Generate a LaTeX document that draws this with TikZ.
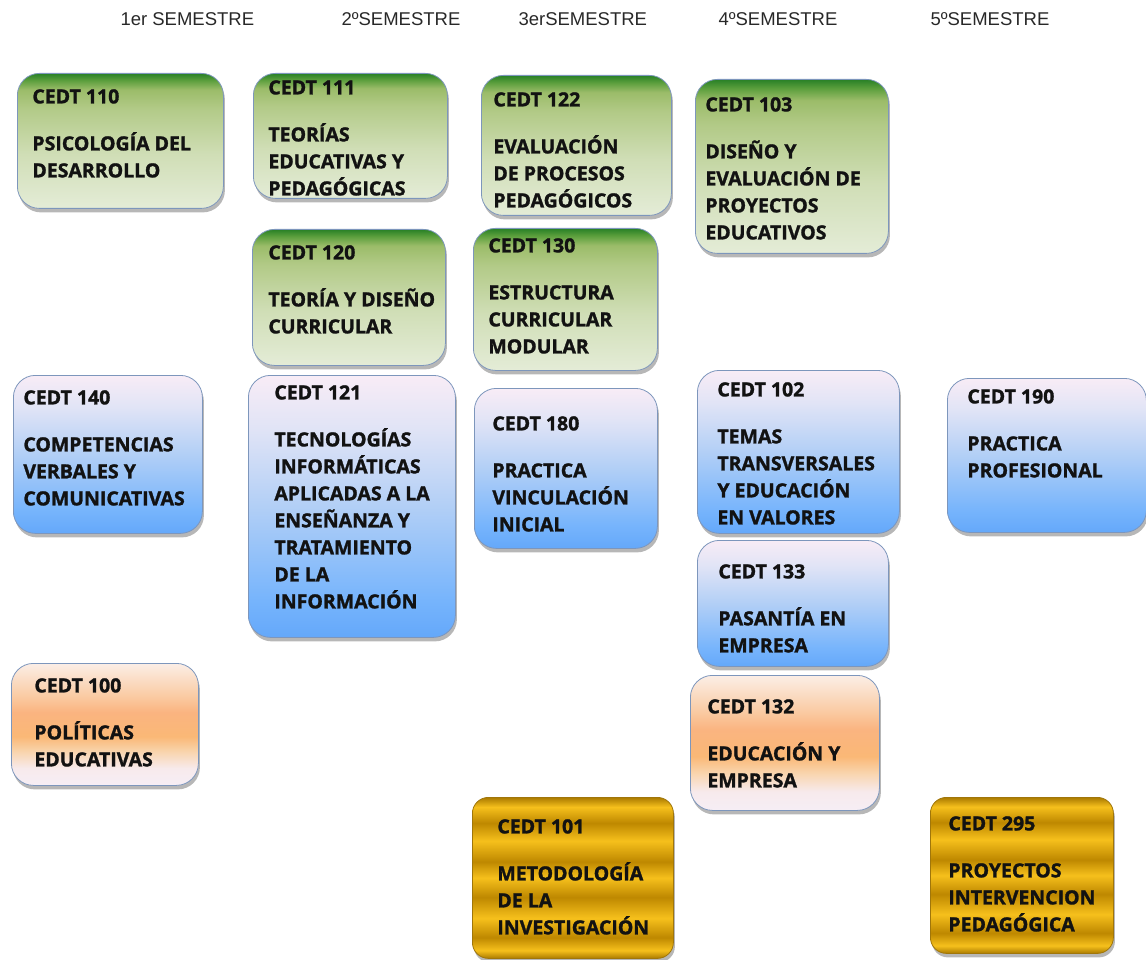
\documentclass[tikz,border=0pt]{standalone}
\usepackage{fontspec}
\setmainfont{Open Sans}[BoldFeatures={FakeBold=1.4}]
\newfontfamily\semfont{Liberation Sans}
\usetikzlibrary{shadows}

% colours
\definecolor{boxline}{RGB}{125,150,188}
\definecolor{goldline}{RGB}{160,118,10}
\definecolor{semgray}{RGB}{40,40,40}
\definecolor{coursetext}{RGB}{18,18,18}
\definecolor{gA}{RGB}{228,236,215}
\definecolor{gB}{RGB}{208,222,182}
\definecolor{gC}{RGB}{178,202,135}
\definecolor{gD}{RGB}{155,188,105}
\definecolor{gE}{RGB}{90,158,60}
\definecolor{gF}{RGB}{40,128,38}
\definecolor{bA}{RGB}{100,168,250}
\definecolor{bB}{RGB}{118,180,252}
\definecolor{bC}{RGB}{178,207,246}
\definecolor{bD}{RGB}{225,228,246}
\definecolor{bE}{RGB}{248,236,246}
\definecolor{oA}{RGB}{246,238,245}
\definecolor{oB}{RGB}{247,234,236}
\definecolor{oC}{RGB}{249,212,172}
\definecolor{oD}{RGB}{250,184,118}
\definecolor{oE}{RGB}{250,180,128}
\definecolor{oF}{RGB}{250,204,165}
\definecolor{oG}{RGB}{251,238,230}
\definecolor{auDark}{RGB}{190,136,0}
\definecolor{auLight}{RGB}{246,192,28}
\definecolor{auEdge}{RGB}{170,122,0}

% shadings (bottom to top)
\pgfdeclareverticalshading{greenfill}{100bp}{color(0bp)=(gA); color(25bp)=(gA);
  color(45bp)=(gB); color(62bp)=(gC); color(69bp)=(gD); color(72.5bp)=(gE);
  color(75bp)=(gF); color(100bp)=(gF)}
\pgfdeclareverticalshading{bluefill}{100bp}{color(0bp)=(bA); color(25bp)=(bA);
  color(32bp)=(bB); color(50bp)=(bC); color(65bp)=(bD); color(75bp)=(bE);
  color(100bp)=(bE)}
\pgfdeclareverticalshading{orangefill}{100bp}{color(0bp)=(oA); color(25bp)=(oA);
  color(32bp)=(oB); color(39bp)=(oC); color(45bp)=(oD); color(55bp)=(oE);
  color(62bp)=(oF); color(75bp)=(oG); color(100bp)=(oG)}
\pgfdeclareverticalshading{goldfill}{100bp}{color(0bp)=(auEdge); color(25bp)=(auEdge);
  color(27.5bp)=(auLight); color(31.5bp)=(auDark); color(37.5bp)=(auLight);
  color(44bp)=(auDark); color(50bp)=(auLight); color(55bp)=(auDark);
  color(61.5bp)=(auLight); color(67bp)=(auDark); color(72bp)=(auLight);
  color(75bp)=(auEdge); color(100bp)=(auEdge)}

\begin{document}
\begin{tikzpicture}[x=1pt,y=-1pt]
% Styles
\tikzstyle{course}=[draw=boxline, line width=0.8pt, rounded corners=22pt,
  inner sep=0pt, anchor=north west, text=coursetext,
  font=\fontsize{19.5}{27}\selectfont\bfseries,
  drop shadow={shadow xshift=1.5pt, shadow yshift=-4pt, opacity=0.4, fill=black!70}]
\tikzstyle{greenbox}=[course, shading=greenfill]
\tikzstyle{bluebox}=[course, shading=bluefill]
\tikzstyle{orangebox}=[course, shading=orangefill]
\tikzstyle{goldbox}=[course, shading=goldfill, draw=goldline, rounded corners=16pt]
\tikzstyle{semester}=[anchor=base west, text=semgray,
  font=\semfont\fontsize{18.5}{20}\selectfont]

\useasboundingbox (0,0) rectangle (1146,960);

% semester headings
\node[semester] (sem1) at (117,26) {1er SEMESTRE};
\node[semester] (sem2) at (338,26) {2ºSEMESTRE};
\node[semester] (sem3) at (515,26) {3erSEMESTRE};
\node[semester] (sem4) at (715,26) {4ºSEMESTRE};
\node[semester] (sem5) at (927,26) {5ºSEMESTRE};

% draw the course boxes: name / x / y / width / height / style / text x / first baseline / text
\foreach \nm/\x/\y/\w/\h/\kind/\dx/\dy/\txt in {
  c110/17/73/206/135/greenbox/15/30/{CEDT 110\\[20pt]PSICOLOGÍA DEL\\DESARROLLO},
  c111/253/73/194/125/greenbox/15/21/{CEDT 111\\[20pt]TEORÍAS\\EDUCATIVAS Y\\PEDAGÓGICAS},
  c122/481/75/190/140/greenbox/12/31/{CEDT 122\\[20pt]EVALUACIÓN\\DE PROCESOS\\PEDAGÓGICOS},
  c103/695/79/193/174/greenbox/10/32/{CEDT 103\\[20pt]DISEÑO Y\\EVALUACIÓN DE\\PROYECTOS\\EDUCATIVOS},
  c120/252/229/193/136/greenbox/16/30/{CEDT 120\\[20pt]TEORÍA Y DISEÑO\\CURRICULAR},
  c130/473/228/184/142/greenbox/15/24/{CEDT 130\\[20pt]ESTRUCTURA\\CURRICULAR\\MODULAR},
  c140/13/375/189/158/bluebox/10/29/{CEDT 140\\[20pt]COMPETENCIAS\\VERBALES Y\\COMUNICATIVAS},
  c121/248/375/207/262/bluebox/26/24/{CEDT 121\\[20pt]TECNOLOGÍAS\\INFORMÁTICAS\\APLICADAS A LA\\ENSEÑANZA Y\\TRATAMIENTO\\DE LA\\INFORMACIÓN},
  c180/474/388/183/160/bluebox/18/42/{CEDT 180\\[20pt]PRACTICA\\VINCULACIÓN\\INICIAL},
  c102/697/370/202/163/bluebox/20/26/{CEDT 102\\[20pt]TEMAS\\TRANSVERSALES\\Y EDUCACIÓN\\EN VALORES},
  c190/947/378/199/154/bluebox/20/25/{CEDT 190\\[20pt]PRACTICA\\PROFESIONAL},
  c133/697/540/191/126/bluebox/21/38/{CEDT 133\\[20pt]PASANTÍA EN\\EMPRESA},
  c100/11/663/187/122/orangebox/23/29/{CEDT 100\\[20pt]POLÍTICAS\\EDUCATIVAS},
  c132/690/675/189/135/orangebox/17/38/{CEDT 132\\[20pt]EDUCACIÓN Y\\EMPRESA},
  c101/472/797/201/161/goldbox/25/36/{CEDT 101\\[20pt]METODOLOGÍA\\DE LA\\INVESTIGACIÓN},
  c295/930/797/183/156/goldbox/18/33/{CEDT 295\\[20pt]PROYECTOS\\INTERVENCION\\PEDAGÓGICA}} {
\node[\kind] (\nm) at (\x,\y) {\parbox[t][\h pt][t]{\w pt}{\hspace*{\dx pt}%
  \begin{tabular}[t]{@{}l@{}}\rule{0pt}{\dy pt}\txt\end{tabular}}};
}

\end{tikzpicture}
\end{document}
